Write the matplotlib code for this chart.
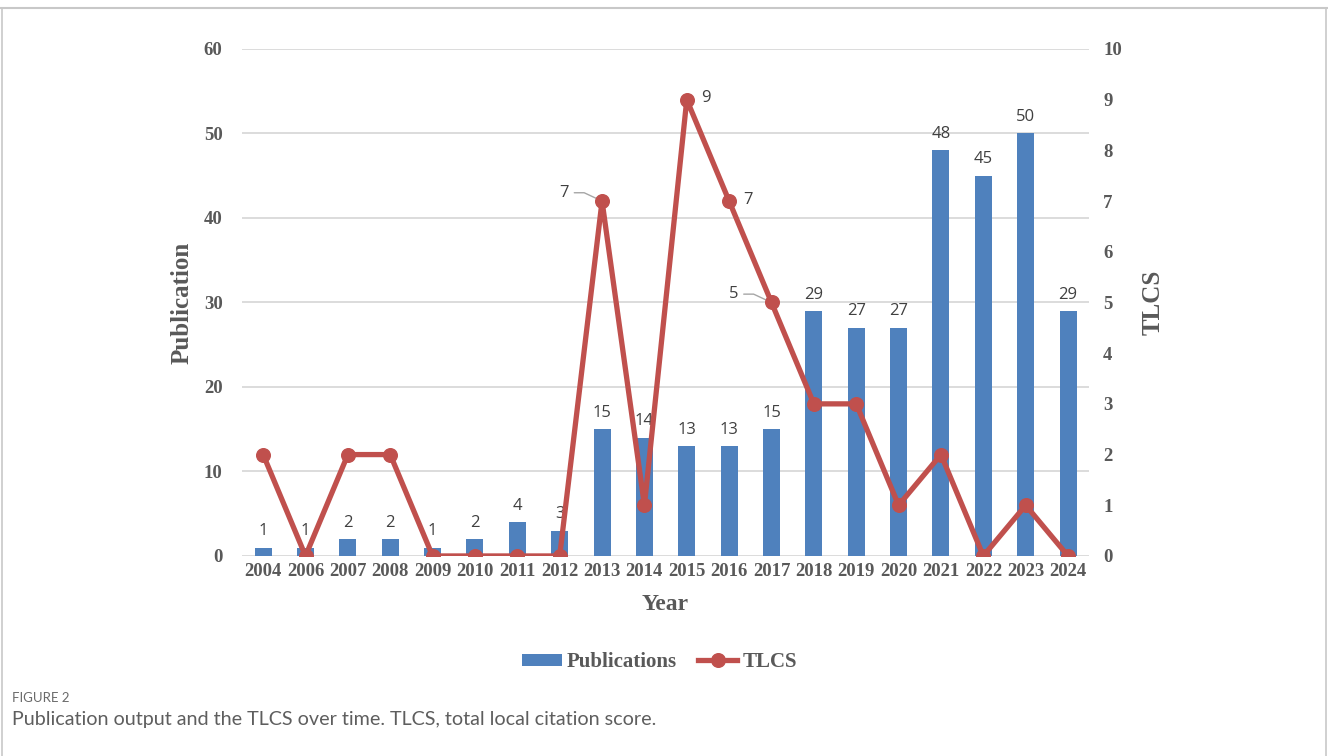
import matplotlib.pyplot as plt
from matplotlib.lines import Line2D
from matplotlib.patches import Patch

years = ["2004", "2006", "2007", "2008", "2009", "2010", "2011", "2012", "2013", "2014",
         "2015", "2016", "2017", "2018", "2019", "2020", "2021", "2022", "2023", "2024"]
publications = [1, 1, 2, 2, 1, 2, 4, 3, 15, 14, 13, 13, 15, 29, 27, 27, 48, 45, 50, 29]
tlcs = [2, 0, 2, 2, 0, 0, 0, 0, 7, 1, 9, 7, 5, 3, 3, 1, 2, 0, 1, 0]
# TLCS points that carry a value label: index -> (side, leader line)
tlcs_labels = {8: ("left", True), 10: ("right", False), 11: ("right", False), 12: ("left", True)}

BAR = "#4F81BD"
LINE = "#C0504D"
TXT = "#595959"
LBL = "#404040"
serif = "Liberation Serif"
sans = "Open Sans"

fig = plt.figure(figsize=(13.28, 7.56), dpi=100)
ax = fig.add_axes([0.1822, 0.2646, 0.638, 0.6706])
ax2 = ax.twinx()

x = list(range(len(years)))
ax.bar(x, publications, width=0.4, color=BAR, zorder=2)
ax.set_xlim(-0.5, len(years) - 0.5)
ax.set_ylim(0, 60)
ax.set_yticks(range(0, 61, 10))
ax.grid(axis="y", color="#d9d9d9", linewidth=1.3, zorder=0)
ax.set_axisbelow(True)
ax.set_xticks(x)
ax.set_xticklabels(years)
for s in ax.spines.values():
    s.set_visible(False)
for s in ax2.spines.values():
    s.set_visible(False)
ax.tick_params(axis="both", length=0)
ax.tick_params(axis="y", pad=14)
ax.tick_params(axis="x", pad=5)
for lab in ax.get_xticklabels() + ax.get_yticklabels():
    lab.set_fontfamily(serif)
    lab.set_fontweight("bold")
    lab.set_color(TXT)
    lab.set_fontsize(13.5)

for xi, v in zip(x, publications):
    ax.annotate(str(v), (xi, v), xytext=(0, 6), textcoords="offset points",
                ha="center", va="bottom", fontsize=12, color=LBL, family=sans, zorder=3)

ax2.plot(x, tlcs, color=LINE, linewidth=3.8, marker="o", markersize=9.8, zorder=4)
ax2.set_ylim(0, 10)
ax2.set_yticks(range(0, 11))
ax2.tick_params(axis="y", length=0, pad=10)
for lab in ax2.get_yticklabels():
    lab.set_fontfamily(serif)
    lab.set_fontweight("bold")
    lab.set_color(TXT)
    lab.set_fontsize(13.5)

for i, (side, leader) in tlcs_labels.items():
    v = tlcs[i]
    if side == "right":
        ax2.annotate(str(v), (i, v), xytext=(10, 1), textcoords="offset points",
                     ha="left", va="center", fontsize=12, color=LBL, family=sans)
    else:
        ax2.annotate(str(v), (i, v), xytext=(-24, 6), textcoords="offset points",
                     ha="right", va="center", fontsize=12, color=LBL, family=sans,
                     arrowprops=dict(arrowstyle="-", color="#a6a6a6", lw=1.0,
                                     shrinkA=2, shrinkB=2,
                                     connectionstyle="angle,angleA=0,angleB=-25,rad=0"))

ax.set_ylabel("Publication", family=serif, fontweight="bold", fontsize=18, color=TXT, labelpad=7)
ax2.set_ylabel("TLCS", family=serif, fontweight="bold", fontsize=18, color=TXT, labelpad=14)
ax.set_xlabel("Year", family=serif, fontweight="bold", fontsize=17, color=TXT, labelpad=10)

handles = [Patch(facecolor=BAR, edgecolor="none"),
           Line2D([0], [0], color=LINE, linewidth=3.8, marker="o", markersize=9.8)]
leg = fig.legend(handles, ["Publications", "TLCS"], loc="center", bbox_to_anchor=(659.5 / 1328, 1 - 662 / 756),
                 ncol=2, frameon=False, handlelength=1.9, handleheight=0.5, columnspacing=1.0,
                 handletextpad=0.25, prop={"family": serif, "weight": "bold", "size": 15})
for t in leg.get_texts():
    t.set_color(TXT)

# card frame around the figure
fig.add_artist(Line2D([0, 1], [1 - 8 / 756] * 2, color="#c8c8c8", linewidth=1.5, transform=fig.transFigure))
fig.add_artist(Line2D([2 / 1328] * 2, [0, 1 - 8 / 756], color="#c8c8c8", linewidth=1.2, transform=fig.transFigure))
fig.add_artist(Line2D([1 - 2 / 1328] * 2, [0, 1 - 8 / 756], color="#c8c8c8", linewidth=1.2, transform=fig.transFigure))

fig.text(12 / 1328, 1 - 698 / 756, "FIGURE 2", family="Lato", fontsize=9.5, color="#6a6a6a", va="center")
fig.text(12 / 1328, 1 - 720 / 756, "Publication output and the TLCS over time. TLCS, total local citation score.",
         family="Lato", fontsize=14.2, color="#5e5e5e", va="center")

fig.savefig("out.png", dpi=100)
